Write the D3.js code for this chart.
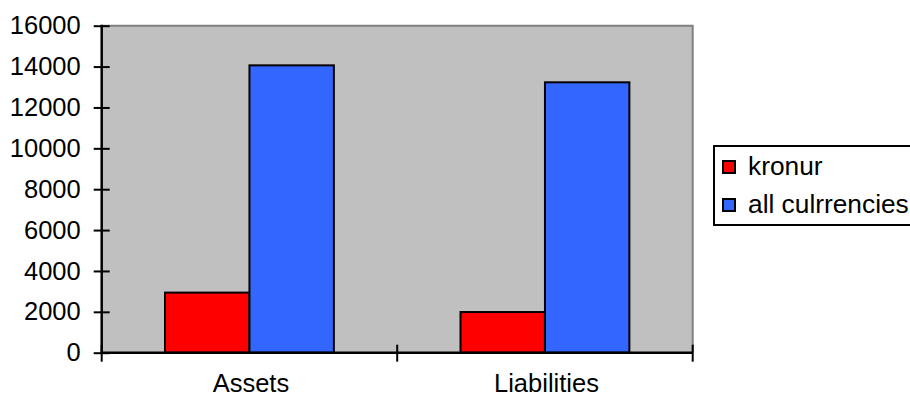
<!DOCTYPE html>
<html>
<head>
<meta charset="utf-8">
<script src="https://cdn.jsdelivr.net/npm/d3@7/dist/d3.min.js"></script>
<style>
  html, body { margin: 0; padding: 0; background: #ffffff; }
  svg { display: block; }
  text { font-family: "Liberation Sans", Arial, sans-serif; fill: #000; }
</style>
</head>
<body>
<svg id="chart" width="910" height="398"></svg>
<script>
// Balance sheet totals, kronur vs. all currencies
const categories = ["Assets", "Liabilities"];
const seriesNames = ["kronur", "all culrrencies"];
const kronur = [2940, 1990];
const allCurrencies = [14060, 13230];
const yTicks = [0, 2000, 4000, 6000, 8000, 10000, 12000, 14000, 16000];
const seriesColors = ["#ff0000", "#3366ff"];

const seriesValues = [kronur, allCurrencies];
const rows = categories.map((c, i) => ({
  category: c,
  values: seriesNames.map((s, j) => ({ series: s, value: seriesValues[j][i], color: seriesColors[j] }))
}));

const fontSize = 25.5;
const legendFontSize = 26.3;
const svg = d3.select("#chart");
const plot = { left: 101.7, right: 692.7, top: 25.7, bottom: 352.7 };

const x0 = d3.scaleBand().domain(categories).range([plot.left, plot.right]).padding(0);
const x1 = d3.scaleBand().domain(seriesNames).range([0, x0.bandwidth()])
  .paddingInner(0).paddingOuter(0.75);
const y = d3.scaleLinear().domain([0, 16000]).range([plot.bottom, plot.top]);

// plot background
svg.append("rect")
  .attr("x", plot.left).attr("y", plot.top)
  .attr("width", plot.right - plot.left).attr("height", plot.bottom - plot.top)
  .attr("fill", "#c0c0c0");
// top and right frame edges
svg.append("path")
  .attr("d", `M${plot.left},${plot.top}H${plot.right}V${plot.bottom}`)
  .attr("fill", "none").attr("stroke", "#808080").attr("stroke-width", 2);

// bars
const groups = svg.selectAll("g.cat").data(rows).join("g")
  .attr("class", "cat")
  .attr("transform", d => `translate(${x0(d.category)},0)`);
groups.selectAll("rect").data(d => d.values).join("rect")
  .attr("x", d => x1(d.series))
  .attr("y", d => y(d.value))
  .attr("width", x1.bandwidth())
  .attr("height", d => y(0) - y(d.value))
  .attr("fill", d => d.color)
  .attr("stroke", "#000").attr("stroke-width", 2);

// y axis with ticks crossing the axis line
const yAxis = svg.append("g")
  .attr("transform", `translate(${plot.left},0)`)
  .call(d3.axisLeft(y).tickValues(yTicks).tickSize(8).tickPadding(13).tickFormat(d3.format("d")));
yAxis.select(".domain").remove();
yAxis.selectAll(".tick line").attr("x1", 8).attr("stroke", "#000").attr("stroke-width", 2);
yAxis.selectAll(".tick text").attr("font-size", fontSize)
  .style("font-family", '"Liberation Sans", Arial, sans-serif');
svg.append("line")
  .attr("x1", plot.left).attr("x2", plot.left)
  .attr("y1", plot.top - 1).attr("y2", plot.bottom + 1)
  .attr("stroke", "#000").attr("stroke-width", 2.5);

// x axis: category boundary ticks and centred labels
const bounds = categories.map(c => x0(c)).concat([x0(categories[categories.length - 1]) + x0.bandwidth()]);
svg.append("line")
  .attr("x1", plot.left).attr("x2", plot.right)
  .attr("y1", plot.bottom).attr("y2", plot.bottom)
  .attr("stroke", "#000").attr("stroke-width", 2.5);
svg.selectAll("line.xtick").data(bounds).join("line")
  .attr("class", "xtick")
  .attr("x1", d => d).attr("x2", d => d)
  .attr("y1", plot.bottom - 8).attr("y2", plot.bottom + 9)
  .attr("stroke", "#000").attr("stroke-width", 2);
svg.selectAll("text.xlabel").data(categories).join("text")
  .attr("class", "xlabel")
  .attr("x", d => x0(d) + x0.bandwidth() / 2 + 1.5)
  .attr("y", 392)
  .attr("text-anchor", "middle")
  .attr("font-size", fontSize)
  .text(d => d);

// legend
const legend = svg.append("g");
legend.append("rect")
  .attr("x", 714).attr("y", 146).attr("width", 210).attr("height", 79)
  .attr("fill", "#fff").attr("stroke", "#000").attr("stroke-width", 2);
const items = legend.selectAll("g.item").data(seriesNames).join("g")
  .attr("class", "item")
  .attr("transform", (d, i) => `translate(0,${i * 38})`);
items.append("rect")
  .attr("x", 723).attr("y", 161).attr("width", 12).attr("height", 12)
  .attr("fill", (d, i) => seriesColors[i])
  .attr("stroke", "#000").attr("stroke-width", 2);
items.append("text")
  .attr("x", 748).attr("y", 175)
  .attr("font-size", legendFontSize)
  .text(d => d);
</script>
</body>
</html>
